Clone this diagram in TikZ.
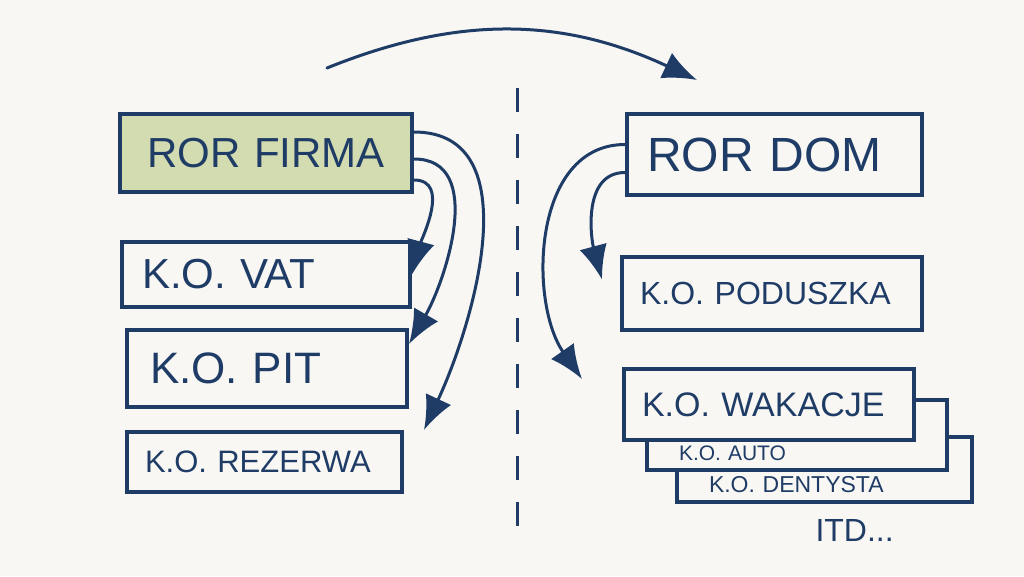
\documentclass[tikz,border=0pt]{standalone}
\usepackage{fontspec}
\setmainfont{Liberation Sans}
\usetikzlibrary{arrows.meta}

\definecolor{inkblue}{HTML}{1E3C66}
\definecolor{paper}{HTML}{F8F7F3}
\definecolor{sage}{HTML}{D3DBB0}

\newcommand{\handfont}[1]{\fontsize{#1}{#1}\selectfont}

\tikzset{
  box/.style={draw=inkblue, line width=4pt, fill=paper, anchor=north west,
    inner ysep=0pt, align=left, text=inkblue},
  flow/.style={draw=inkblue, line width=3pt, line cap=round,
    -{Latex[length=34pt,width=28pt]}},
}

\begin{document}
\begin{tikzpicture}[x=1pt,y=-1pt]
  \fill[paper] (0,0) rectangle (1024,576);
  \useasboundingbox (0,0) rectangle (1024,576);

  % left column
  \node[box, fill=sage, inner xsep=27pt, text width=238pt, minimum height=78pt,
    font=\handfont{42}] (rorfirma) at (118,112) {\mbox{ROR FIRMA}};
  \node[box, inner xsep=20pt, text width=248pt, minimum height=65pt,
    font=\handfont{42}] (vat) at (120,240) {\mbox{K.O. VAT}};
  \node[box, inner xsep=23pt, text width=234pt, minimum height=77pt,
    font=\handfont{44}] (pit) at (125,328) {\mbox{K.O. PIT}};
  \node[box, inner xsep=18pt, text width=239pt, minimum height=60pt,
    font=\handfont{31}] (rezerwa) at (125,430) {\mbox{K.O. REZERWA}};

  % divider
  \coordinate (divtop) at (517,88);
  \coordinate (divbot) at (517,540);
  \draw[inkblue, line width=3pt, dash pattern=on 24pt off 22pt] (divtop) -- (divbot);

  % right column, back to front
  \node[box, inner xsep=32pt, text width=231pt, text height=55pt, text depth=10pt,
    font=\handfont{23}] (dentysta) at (675,435) {\mbox{K.O. DENTYSTA}};
  \node[box, inner xsep=32pt, text width=236pt, text height=60pt, text depth=10pt,
    font=\handfont{21}] (auto) at (645,398) {\mbox{K.O. AUTO}};
  \node[box, inner xsep=18pt, text width=254pt, minimum height=71pt,
    font=\handfont{34}] (wakacje) at (622,367) {\mbox{K.O. WAKACJE}};
  \node[box, inner xsep=18pt, text width=264pt, minimum height=73pt,
    font=\handfont{32}] (poduszka) at (620,255) {\mbox{K.O. PODUSZKA}};
  \node[box, inner xsep=20pt, text width=255pt, minimum height=81pt,
    font=\handfont{48}] (rordom) at (625,112) {\mbox{ROR DOM}};

  \node[text=inkblue, font=\handfont{32}, anchor=west] (itd) at (812,530) {ITD...};

  % top arrow
  \coordinate (leftstart) at (327,68);
  \coordinate (rightend) at (697,80);
  \draw[flow] (leftstart) to[out=22, in=155] (rightend);

  % arrows out of ROR FIRMA
  \draw[flow] ([yshift=21pt]rorfirma.east) to[out=0, in=65] ([xshift=20pt]rezerwa.north east);
  \draw[flow] ([yshift=-6pt]rorfirma.east) to[out=0, in=60] ([yshift=-16pt]pit.north east);
  \draw[flow] ([yshift=-27pt]rorfirma.east) to[out=0, in=75] (vat.east);

  % arrows out of ROR DOM
  \draw[flow] ([yshift=10pt]rordom.west) to[out=180, in=125] ([xshift=-40pt,yshift=-12pt]wakacje.north west);
  \draw[flow] ([yshift=-18pt]rordom.west) to[out=180, in=105] ([xshift=-18pt,yshift=14pt]poduszka.west);
\end{tikzpicture}
\end{document}
